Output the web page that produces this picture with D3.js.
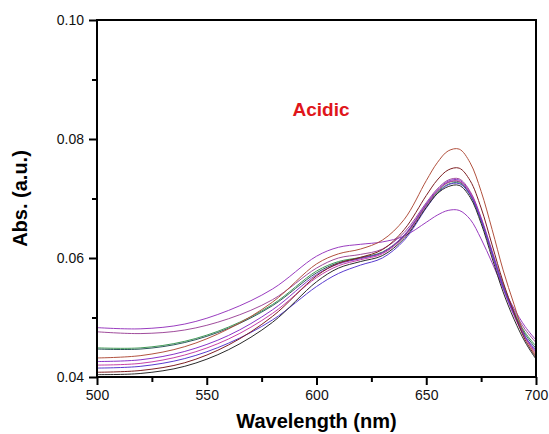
<!DOCTYPE html>
<html>
<head>
<meta charset="utf-8">
<script src="https://cdn.jsdelivr.net/npm/d3@7"></script>
<style>
  body { margin: 0; background: #fff; }
  text { font-family: "Liberation Sans", Arial, sans-serif; }
</style>
</head>
<body>
<script>
const wavelengths = [500, 520, 540, 560, 580, 600, 610, 620, 630, 640, 650, 655, 660, 665, 670, 675, 680, 685, 690, 695, 700];

// absorbance spectra (acidic)
const specPurpleHigh = [.0483, .0481, .0489, .0512, .0548, .0603, .0618, .0623, .0627, .0637, .0660, .0672, .0680, .0680, .0665, .0632, .0592, .0550, .0515, .0485, .0462];
const specMauve      = [.0476, .0473, .0479, .0498, .0530, .0583, .0600, .0606, .0615, .0643, .0693, .0716, .0731, .0733, .0712, .0668, .0612, .0557, .0512, .0480, .0458];
const specGreen      = [.0449, .0449, .0460, .0484, .0522, .0578, .0594, .0601, .0610, .0638, .0688, .0710, .0724, .0726, .0706, .0663, .0608, .0553, .0509, .0475, .0452];
const specTeal       = [.0447, .0447, .0458, .0482, .0520, .0575, .0592, .0600, .0609, .0637, .0689, .0712, .0727, .0728, .0707, .0663, .0607, .0552, .0507, .0472, .0448];
const specRedBrown   = [.0432, .0436, .0451, .0481, .0526, .0590, .0607, .0615, .0630, .0665, .0730, .0760, .0780, .0783, .0760, .0712, .0648, .0580, .0522, .0468, .0436];
const specViolet     = [.0426, .0429, .0443, .0470, .0513, .0572, .0590, .0599, .0609, .0639, .0691, .0714, .0729, .0731, .0710, .0666, .0609, .0552, .0506, .0468, .0442];
const specMagenta    = [.0420, .0423, .0437, .0464, .0507, .0567, .0587, .0597, .0607, .0636, .0688, .0712, .0727, .0729, .0709, .0665, .0606, .0549, .0503, .0466, .0440];
const specBlue       = [.0415, .0418, .0431, .0457, .0496, .0552, .0574, .0588, .0600, .0630, .0684, .0708, .0723, .0725, .0706, .0664, .0608, .0551, .0505, .0468, .0445];
const specBrown      = [.0408, .0411, .0424, .0454, .0502, .0570, .0591, .0601, .0614, .0648, .0705, .0731, .0748, .0751, .0730, .0684, .0622, .0560, .0508, .0463, .0433];
const specBlack      = [.0404, .0406, .0418, .0446, .0492, .0560, .0583, .0594, .0604, .0633, .0685, .0708, .0720, .0722, .0702, .0658, .0600, .0543, .0497, .0459, .0430];

const series = [
  { values: specPurpleHigh, color: "#9a3dc0" },
  { values: specMauve,      color: "#a04c9c" },
  { values: specGreen,      color: "#3f9a55" },
  { values: specTeal,       color: "#2c5a5a" },
  { values: specRedBrown,   color: "#b2523f" },
  { values: specViolet,     color: "#8a35c8" },
  { values: specMagenta,    color: "#c540a8" },
  { values: specBlue,       color: "#5a3ccf" },
  { values: specBrown,      color: "#7d1f22" },
  { values: specBlack,      color: "#2a2a2a" }
];

const xTicks = [500, 550, 600, 650, 700];
const xMinor = [525, 575, 625, 675];
const yTicks = [0.04, 0.06, 0.08, 0.10];
const yMinor = [0.05, 0.07, 0.09];

const width = 549, height = 434;
const margin = { top: 20, right: 13, bottom: 57, left: 97 };
const iw = width - margin.left - margin.right;
const ih = height - margin.top - margin.bottom;

const svg = d3.select("body").append("svg")
  .attr("width", width)
  .attr("height", height);

const g = svg.append("g").attr("transform", `translate(${margin.left},${margin.top})`);

const x = d3.scaleLinear().domain([500, 700]).range([0, iw]);
const y = d3.scaleLinear().domain([0.04, 0.10]).range([ih, 0]);

// spectra
const line = d3.line()
  .x((d, i) => x(wavelengths[i]))
  .y(d => y(d))
  .curve(d3.curveCatmullRom.alpha(0.5));

g.selectAll("path.spec")
  .data(series)
  .enter()
  .append("path")
  .attr("class", "spec")
  .attr("d", d => line(d.values))
  .attr("fill", "none")
  .attr("stroke", d => d.color)
  .attr("stroke-width", 1);

// minor ticks
g.append("g")
  .attr("transform", `translate(0,${ih})`)
  .call(d3.axisBottom(x).tickValues(xMinor).tickSize(5).tickFormat(""))
  .call(a => a.select(".domain").remove());
g.append("g")
  .call(d3.axisLeft(y).tickValues(yMinor).tickSize(5).tickFormat(""))
  .call(a => a.select(".domain").remove());

// major ticks
const xAxis = g.append("g")
  .attr("transform", `translate(0,${ih})`)
  .call(d3.axisBottom(x).tickValues(xTicks).tickSize(8).tickPadding(5).tickFormat(d3.format("d")));
xAxis.select(".domain").remove();

const yAxis = g.append("g")
  .call(d3.axisLeft(y).tickValues(yTicks).tickSize(8).tickPadding(5).tickFormat(d3.format(".2f")));
yAxis.select(".domain").remove();

g.selectAll(".tick line").attr("stroke", "#000").attr("stroke-width", 2);
g.selectAll(".tick text")
  .attr("font-size", 14)
  .attr("font-family", "'Liberation Sans', Arial, sans-serif")
  .attr("fill", "#111");

// frame
g.append("rect")
  .attr("x", 0).attr("y", 0)
  .attr("width", iw).attr("height", ih)
  .attr("fill", "none")
  .attr("stroke", "#000")
  .attr("stroke-width", 2);

// labels
svg.append("text")
  .attr("x", margin.left + iw / 2)
  .attr("y", 428)
  .attr("text-anchor", "middle")
  .attr("font-size", 20)
  .attr("font-weight", "bold")
  .text("Wavelength (nm)");

svg.append("text")
  .attr("transform", `translate(27,${margin.top + ih / 2}) rotate(-90)`)
  .attr("text-anchor", "middle")
  .attr("font-size", 20)
  .attr("font-weight", "bold")
  .text("Abs. (a.u.)");

svg.append("text")
  .attr("x", 321)
  .attr("y", 116)
  .attr("text-anchor", "middle")
  .attr("font-size", 19)
  .attr("font-weight", "bold")
  .attr("fill", "#e0161b")
  .text("Acidic");
</script>
</body>
</html>
